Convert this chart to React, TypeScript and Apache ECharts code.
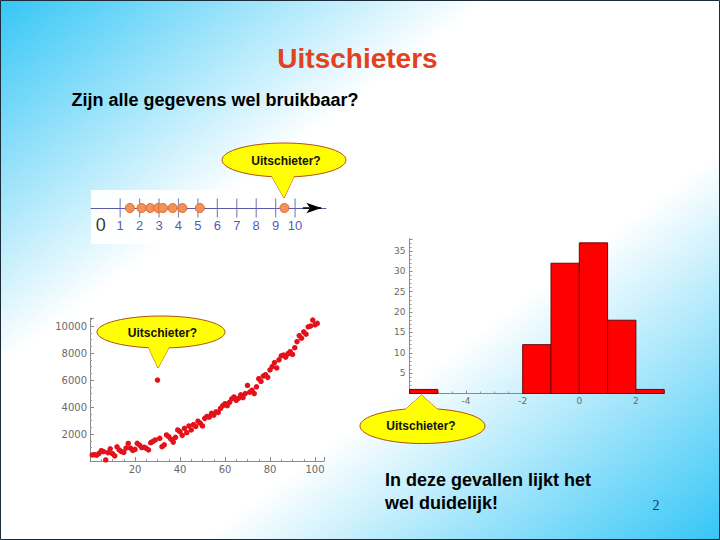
import React, { useEffect, useRef } from 'react';
import * as echarts from 'echarts';

// ---------- Number line ----------
const numberLineTicks = [0, 1, 2, 3, 4, 5, 6, 7, 8, 9, 10];
const numberLineDots = [1.5, 2.1, 2.55, 2.95, 3.2, 3.7, 4.2, 5.1, 9.45];

// ---------- Scatter ----------
const scatterX = [
  1, 2, 3, 4, 5, 6, 7, 8, 9, 10, 11, 12, 13, 14, 15, 16, 17, 18, 19, 20,
  21, 22, 23, 24, 25, 26, 27, 28, 29, 30, 31, 32, 33, 34, 35, 36, 37, 38, 39, 40,
  41, 42, 43, 44, 45, 46, 47, 48, 49, 50, 51, 52, 53, 54, 55, 56, 57, 58, 59, 60,
  61, 62, 63, 64, 65, 66, 67, 68, 69, 70, 71, 72, 73, 74, 75, 76, 77, 78, 79, 80,
  81, 82, 83, 84, 85, 86, 87, 88, 89, 90, 91, 92, 93, 94, 95, 96, 97, 98, 99, 100, 101,
];
const scatterY = [
  450, 470, 430, 560, 760, 700, 80, 620, 900, 540, 380, 1050, 820, 700, 640, 960, 1300, 950, 780, 860,
  1310, 1180, 1000, 1020, 940, 820, 1360, 1450, 1560, 6000, 1680, 1060, 1200, 1930, 1800, 1620, 1400, 1750, 2300, 2170,
  1900, 2420, 2100, 2600, 2300, 2700, 2560, 2950, 2800, 2600, 3160, 3300, 3250, 3530, 3400, 3650, 3600, 3900, 4100, 4250,
  4100, 4350, 4600, 4750, 4500, 4650, 4900, 4700, 5000, 5600, 5100, 5250, 5000, 5500, 6100, 5900, 6300, 6400, 6200, 6750,
  7000, 7300, 6900, 7500, 7800, 7850, 7700, 7950, 8100, 7900, 8400, 8850, 9300, 9100, 9580, 9400, 9950, 10000, 10450, 10100, 10200,
];
const scatterXTicks = [20, 40, 60, 80, 100];
const scatterYTicks = [2000, 4000, 6000, 8000, 10000];

// ---------- Histogram ----------
const histEdges = [-6, -5, -4, -3, -2, -1, 0, 1, 2, 3];
const histCounts = [1, 0, 0, 0, 12, 32, 37, 18, 1];
const histXTicks = [-4, -2, 0, 2];
const histYTicks = [5, 10, 15, 20, 25, 30, 35];

const SANS = '"Liberation Sans", Arial, sans-serif';
const AXIS_FONT = '"DejaVu Sans", sans-serif';

function txt(text: string, x: number, y: number, font: string, fill: string, align = 'left', z = 50) {
  return {
    type: 'text',
    x,
    y,
    z,
    silent: true,
    style: {
      text,
      font,
      fill,
      align,
      verticalAlign: 'middle',
      textAlign: align,
      textVerticalAlign: 'middle',
    },
  };
}

function callout(cx: number, cy: number, rx: number, ry: number, tail: number[][], tx: number, ty: number) {
  const fill = '#ffff00';
  const stroke = '#b0500c';
  return [
    { type: 'polygon', z: 100, silent: true, shape: { points: tail }, style: { fill, stroke, lineWidth: 1 } },
    { type: 'ellipse', z: 101, silent: true, shape: { cx, cy, rx, ry }, style: { fill, stroke, lineWidth: 1 } },
    { type: 'polygon', z: 102, silent: true, shape: { points: tail }, style: { fill } },
    txt('Uitschieter?', tx, ty, `bold 12px ${SANS}`, '#111', 'center', 103),
  ];
}

function buildOption(): any {
  const scatterData = scatterX.map((x, i) => [x, scatterY[i]]);
  const histData = histCounts.map((c, i) => [histEdges[i], histEdges[i + 1], c]);
  const tickData = numberLineTicks.map((t) =>
    t === 0
      ? { value: [t, 0], symbolSize: 0, label: { color: '#000', fontSize: 18, distance: 8 } }
      : { value: [t, 0] }
  );

  const axisLabelBase = { fontFamily: AXIS_FONT, color: '#6a6a6a' };

  return {
    animation: false,
    grid: [
      { left: 91, top: 190, width: 235, height: 54, show: true, backgroundColor: 'rgba(255,255,255,0.95)', borderWidth: 0 },
      { left: 90, top: 318, width: 234, height: 143 },
      { left: 409.5, top: 238.8, width: 254.7, height: 154.7 },
    ],
    xAxis: [
      {
        type: 'value', gridIndex: 0, min: -0.5, max: 11.59,
        axisLine: { show: true, onZero: true, lineStyle: { color: '#5a5aa6', width: 1 } },
        axisTick: { show: false }, axisLabel: { show: false }, splitLine: { show: false },
      },
      {
        type: 'value', gridIndex: 1, min: 0, max: 104, interval: 20,
        axisLine: { show: true, onZero: false, lineStyle: { color: '#8a8a8a' } },
        axisTick: { show: true, inside: true, length: 4, lineStyle: { color: '#8a8a8a' } },
        minorTick: { show: true, splitNumber: 4, length: 2, lineStyle: { color: '#9a9a9a' } },
        axisLabel: {
          ...axisLabelBase, fontSize: 10, margin: 3,
          formatter: (v: number) => (scatterXTicks.includes(v) ? String(v) : ''),
        },
        splitLine: { show: false },
      },
      {
        type: 'value', gridIndex: 2, min: -6, max: 3, interval: 2,
        axisLine: { show: true, onZero: false, lineStyle: { color: '#8a8a8a' } },
        axisTick: { show: true, inside: true, length: 3, lineStyle: { color: '#8a8a8a' } },
        minorTick: { show: true, splitNumber: 4, length: 2, lineStyle: { color: '#9a9a9a' } },
        axisLabel: {
          ...axisLabelBase, fontSize: 9, margin: 3,
          formatter: (v: number) => (histXTicks.includes(v) ? String(v) : ''),
        },
        splitLine: { show: false },
      },
    ],
    yAxis: [
      { type: 'value', gridIndex: 0, min: -2, max: 1, show: false },
      {
        type: 'value', gridIndex: 1, min: 0, max: 10600, interval: 2000,
        axisLine: { show: true, onZero: false, lineStyle: { color: '#8a8a8a' } },
        axisTick: { show: true, inside: true, length: 4, lineStyle: { color: '#8a8a8a' } },
        minorTick: { show: true, splitNumber: 4, length: 2, lineStyle: { color: '#9a9a9a' } },
        axisLabel: {
          ...axisLabelBase, fontSize: 10, margin: 3,
          formatter: (v: number) => (scatterYTicks.includes(v) ? String(v) : ''),
        },
        splitLine: { show: false },
      },
      {
        type: 'value', gridIndex: 2, min: 0, max: 38, interval: 5,
        axisLine: { show: true, onZero: false, lineStyle: { color: '#8a8a8a' } },
        axisTick: { show: true, inside: true, length: 3, lineStyle: { color: '#8a8a8a' } },
        minorTick: { show: true, splitNumber: 5, length: 2, lineStyle: { color: '#9a9a9a' } },
        axisLabel: {
          ...axisLabelBase, fontSize: 9, margin: 4,
          formatter: (v: number) => (histYTicks.includes(v) ? String(v) : ''),
        },
        splitLine: { show: false },
      },
    ],
    series: [
      {
        type: 'scatter', xAxisIndex: 0, yAxisIndex: 0, z: 3,
        symbol: 'rect', symbolSize: [1.2, 19],
        itemStyle: { color: '#6868b0' },
        label: {
          show: true, position: 'bottom', distance: 1,
          fontFamily: SANS, fontSize: 13, color: '#2a2aa0',
          formatter: (p: any) => String(p.value[0]),
        },
        data: tickData,
        markLine: {
          silent: true, symbol: ['none', 'arrow'], symbolSize: [8, 15],
          lineStyle: { color: '#000', width: 1.5, type: 'solid' },
          label: { show: false },
          data: [[{ coord: [10.4, 0] }, { coord: [11.35, 0] }]],
        },
      },
      {
        type: 'scatter', xAxisIndex: 0, yAxisIndex: 0, z: 4,
        symbolSize: 9,
        itemStyle: { color: '#f39258', borderColor: '#e0662c', borderWidth: 1, opacity: 1 },
        data: numberLineDots.map((v) => [v, 0]),
      },
      {
        type: 'scatter', xAxisIndex: 1, yAxisIndex: 1,
        symbolSize: 5.5,
        itemStyle: { color: '#e4101a', opacity: 1 },
        data: scatterData,
      },
      {
        type: 'custom', xAxisIndex: 2, yAxisIndex: 2,
        renderItem: (params: any, api: any) => {
          const c = api.value(2);
          if (!c) return null;
          const p0 = api.coord([api.value(0), c]);
          const p1 = api.coord([api.value(1), 0]);
          return {
            type: 'rect',
            shape: { x: p0[0], y: p0[1], width: p1[0] - p0[0], height: p1[1] - p0[1] },
            style: { fill: '#ff0000', stroke: '#6a0808', lineWidth: 1 },
          };
        },
        encode: { x: [0, 1], y: 2 },
        data: histData,
      },
    ],
    graphic: [
      {
        type: 'rect', z: -100, silent: true,
        shape: { x: 0, y: 0, width: 720, height: 540 },
        style: {
          fill: new echarts.graphic.LinearGradient(0, 0, 1, 1, [
            { offset: 0, color: '#35c6f6' },
            { offset: 0.34, color: '#ffffff' },
            { offset: 0.64, color: '#ffffff' },
            { offset: 1, color: '#35c6f6' },
          ]),
        },
      },
      txt('Uitschieters', 357.5, 58.6, `bold 28px ${SANS}`, '#e4401d', 'center'),
      txt('Zijn alle gegevens wel bruikbaar?', 71.5, 99.8, `bold 18px ${SANS}`, '#000', 'left'),
      txt('In deze gevallen lijkt het', 385, 480.4, `bold 18px ${SANS}`, '#000', 'left'),
      txt('wel duidelijk!', 385, 503, `bold 18px ${SANS}`, '#000', 'left'),
      txt('2', 656, 505, `14px "Liberation Serif", serif`, '#1f2f4f', 'center'),
      ...callout(284, 160, 62, 17, [[267, 168], [298, 168], [284, 198]], 286, 161),
      ...callout(161, 332, 64, 16, [[146, 342], [172, 342], [158, 368]], 162.5, 333),
      ...callout(422.5, 426, 62.5, 17.5, [[398, 416], [445, 416], [421.5, 395]], 421, 426),
      {
        type: 'rect', z: 200, silent: true,
        shape: { x: 0.5, y: 0.5, width: 719, height: 539 },
        style: { fill: 'none', stroke: '#1b2b38', lineWidth: 1 },
      },
    ],
  };
}

export default function App() {
  const ref = useRef<HTMLDivElement>(null);
  useEffect(() => {
    if (!ref.current) return;
    const chart = echarts.init(ref.current, null, { renderer: 'svg' });
    chart.setOption(buildOption());
    return () => chart.dispose();
  }, []);
  return (
    <div
      ref={ref}
      style={{ position: 'absolute', left: 0, top: 0, width: 720, height: 540 }}
    />
  );
}
